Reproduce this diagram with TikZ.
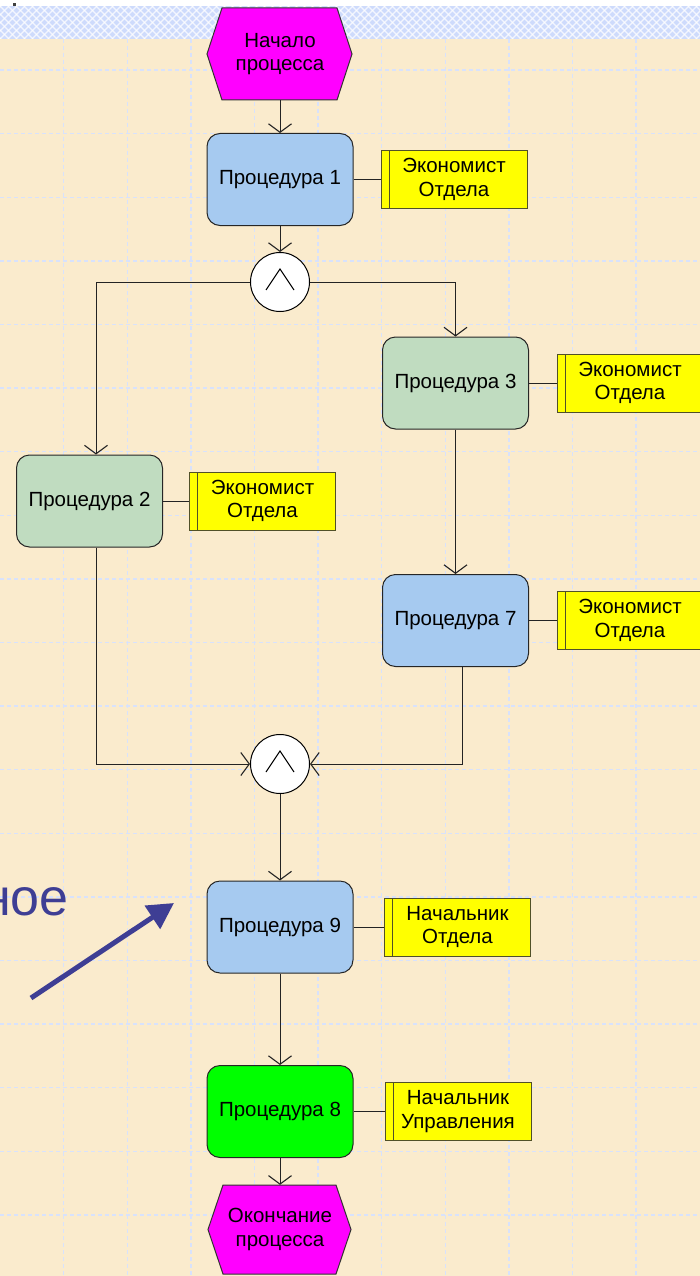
\documentclass[tikz,border=0pt]{standalone}
\usepackage{fontspec}
\setmainfont{Liberation Sans}
\usetikzlibrary{arrows.meta,calc}

\definecolor{paper}{RGB}{250,235,205}
\definecolor{gridc}{RGB}{216,226,252}
\definecolor{bandc}{RGB}{206,219,252}
\definecolor{procblue}{RGB}{166,202,240}
\definecolor{procgreen}{RGB}{192,220,192}
\definecolor{procbright}{RGB}{0,255,0}
\definecolor{hexmag}{RGB}{255,0,255}
\definecolor{roleyellow}{RGB}{255,255,0}
\definecolor{roleedge}{RGB}{80,80,40}
\definecolor{slateblue}{RGB}{62,62,148}
\definecolor{wire}{RGB}{35,35,35}

\newcommand\boxfont{\fontsize{20.5}{23.5}\selectfont}

\tikzset{
  gridline/.style={gridc, line width=1.4pt, dash pattern=on 4pt off 3pt},
  hexshape/.style={fill=hexmag, draw=black!80, line width=1pt},
  hextext/.style={minimum width=144pt, minimum height=92pt, inner sep=0pt, align=center, font=\boxfont},
  proc/.style={draw=black!85, line width=1pt, rounded corners=13pt, minimum width=146pt,
    minimum height=92pt, inner sep=0pt, font=\boxfont},
  role/.style={draw=roleedge, fill=roleyellow, line width=1pt, minimum width=146pt,
    minimum height=58pt, inner sep=0pt, align=center, font=\boxfont,
    path picture={\draw[roleedge, line width=1pt]
      ([xshift=8pt]path picture bounding box.north west) --
      ([xshift=8pt]path picture bounding box.south west);}},
  gate/.style={circle, draw=black, fill=white, line width=1pt, minimum size=59pt, inner sep=0pt,
    path picture={\draw[line width=1pt]
      ([shift={(-14,8)}]path picture bounding box.center) --
      ([shift={(0,-13)}]path picture bounding box.center) --
      ([shift={(14,8)}]path picture bounding box.center);}},
  flow/.style={draw=wire, line width=1pt, -{Straight Barb[length=8.5pt,width=23pt,line width=1.1pt]}},
  link/.style={draw=wire, line width=1pt},
  pointer/.style={draw=slateblue, line width=5pt, -{Triangle[length=26pt,width=27pt]}}
}

\begin{document}
\begin{tikzpicture}[x=1pt, y=-1pt]
  \useasboundingbox (0,0) rectangle (700,1276);
  \clip (0,0) rectangle (700,1276);

  % page background
  \fill[white] (0,0) rectangle (700,1276);
  \fill[paper] (0,39) rectangle (700,1276);
  \fill[black!75] (13,3.5) rectangle (16,6);

  % checkered band at the top
  \fill[bandc] (0,6) rectangle (700,39);
  \begin{scope}
    \clip (0,6) rectangle (700,39);
    \foreach \i in {-40,-32,...,740} {
      \draw[white, line width=1.3pt, opacity=0.75] (\i,6) -- ++(33,33);
      \draw[white, line width=1.3pt, opacity=0.75] (\i,39) -- ++(33,-33);
    }
  \end{scope}

  % dashed grid
  \foreach \k in {1,...,10}
    \draw[gridline] ({63.6*\k},39) -- ({63.6*\k},1276);
  \foreach \k in {1,...,19}
    \draw[gridline] (0,{6.5+63.6*\k}) -- (700,{6.5+63.6*\k});

  % start and end events
  \filldraw[hexshape] (207,54) -- (222,8) -- (337,8) -- (352,54) -- (337,100) -- (222,100) -- cycle;
  \node[hextext] (start) at (280,54) {Начало\\процесса};

  \filldraw[hexshape] (208,1229.5) -- (223,1185) -- (336,1185) -- (351,1229.5) -- (336,1274) -- (223,1274) -- cycle;
  \node[hextext, minimum height=89pt] (finish) at (280,1229.5) {Окончание\\процесса};

  % procedures
  \node[proc, fill=procblue]   (p1) at (280,179.5)   {Процедура 1};
  \node[proc, fill=procgreen]  (p3) at (455.5,383)   {Процедура 3};
  \node[proc, fill=procgreen]  (p2) at (89.5,501)    {Процедура 2};
  \node[proc, fill=procblue]   (p7) at (455.5,620.5) {Процедура 7};
  \node[proc, fill=procblue]   (p9) at (280,927)     {Процедура 9};
  \node[proc, fill=procbright] (p8) at (280,1111.5)  {Процедура 8};

  % performers
  \node[role] (r1) at (454,179.5)   {Экономист\\Отдела};
  \node[role] (r3) at (630,383)     {Экономист\\Отдела};
  \node[role] (r2) at (262.5,501)   {Экономист\\Отдела};
  \node[role] (r7) at (630,620.5)   {Экономист\\Отдела};
  \node[role] (r9) at (457.5,927)   {Начальник\\Отдела};
  \node[role] (r8) at (458,1111.5)  {Начальник\\Управления};

  % AND connectors
  \node[gate] (and1) at (280,282) {};
  \node[gate] (and2) at (280,764) {};

  % control flow
  \draw[flow] (start) -- (p1);
  \draw[flow] (p1) -- (and1);
  \draw[flow] (and1.west) -| ([xshift=6.5pt]p2.north);
  \draw[flow] (and1.east) -| (p3.north);
  \draw[flow] (p3) -- (p7);
  \draw[flow] ([xshift=6.5pt]p2.south) |- (and2.west);
  \draw[flow] ([xshift=6.5pt]p7.south) |- (and2.east);
  \draw[flow] (and2) -- (p9);
  \draw[flow] (p9) -- (p8);
  \draw[flow] (p8) -- (finish);

  % performer links
  \draw[link] (p1) -- (r1);
  \draw[link] (p3) -- (r3);
  \draw[link] (p2) -- (r2);
  \draw[link] (p7) -- (r7);
  \draw[link] (p9) -- (r9);
  \draw[link] (p8) -- (r8);

  % side caption and pointer
  \node[anchor=base east, inner sep=0pt, text=slateblue, font=\fontsize{52}{60}\selectfont] (caption) at (69,915) {ное};
  \coordinate (ptail) at (31,998);
  \coordinate (phead) at (174,903);
  \draw[pointer] (ptail) -- (phead);
\end{tikzpicture}
\end{document}
